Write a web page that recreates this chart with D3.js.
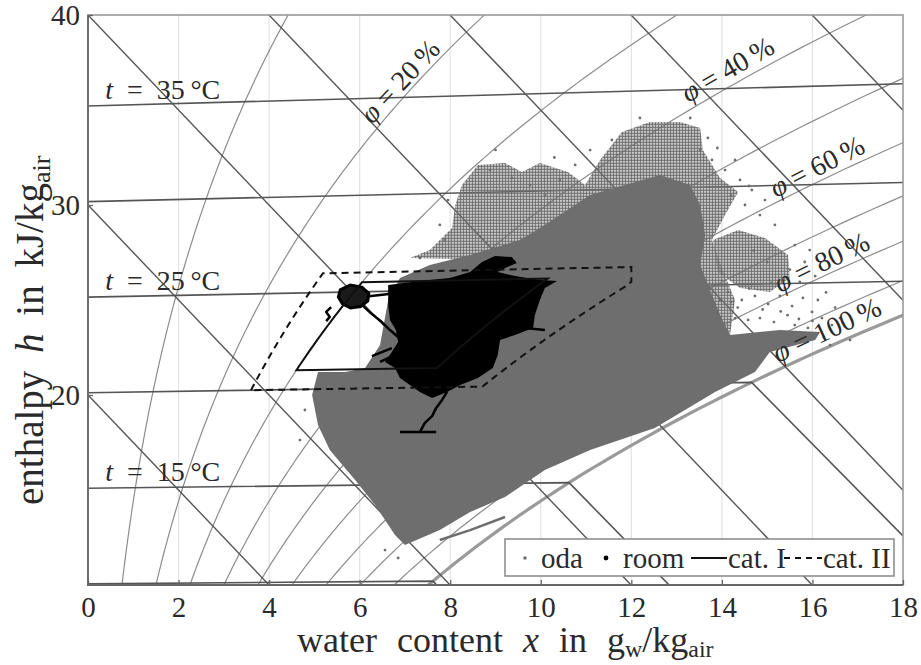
<!DOCTYPE html>
<html>
<head>
<meta charset="utf-8">
<script src="https://cdn.jsdelivr.net/npm/d3@7"></script>
<style>
  body { margin: 0; background: #fff; }
  text { font-family: "Liberation Serif", "Times New Roman", serif; fill: #2a2a2a; }
</style>
</head>
<body>
<svg width="921" height="665"></svg>
<script>
// ---- chart values (x in g/kg, y = axis reading h - r*x in kJ/kg) ----
const xTicks = [0, 2, 4, 6, 8, 10, 12, 14, 16, 18];
const yTicks = [20, 30, 40];
const isotherms = [10, 15, 20, 25, 30, 35, 40];
const isothermLabels = [15, 25, 35];
const enthalpyLevels = [10, 20, 30, 40, 50, 60, 70, 80];
const rhLevels = [0.1, 0.2, 0.3, 0.4, 0.5, 0.6, 0.7, 0.8, 0.9, 1.0];
const rhLabelText = ["20", "40", "60", "80", "100"];
const rhLabelX = [6.27, 13.25, 15.19, 15.28, 15.24];
const rhLabelY = [34.21, 35.37, 30.37, 25.37, 21.68];
const rhLabelAngle = [-47, -30, -27, -26, -25];

// comfort categories: temperature range, rel. humidity range, max water content
const catI = { t: [21, 25.5], phi: [0.30, 0.50], xMax: 99 };
const catII = { t: [20, 26], phi: [0.25, 0.60], xMax: 12 };

// outdoor air (oda) cloud
const odaCore = [
  [10.42, 29.47], [11.09, 30.53], [11.86, 31.05], [12.63, 31.58], [13.30, 31.05],
  [13.52, 30.0], [13.63, 28.42], [13.52, 26.84], [13.74, 25.53], [13.96, 24.21],
  [14.18, 23.16], [15.28, 23.42], [16.17, 23.32], [16.06, 22.89], [15.06, 22.26],
  [14.73, 21.21], [13.85, 20.16], [12.52, 18.26], [11.09, 17.11], [10.09, 16.05],
  [9.21, 14.63], [8.44, 13.84], [7.77, 12.89], [7.0, 12.11], [6.78, 12.63],
  [6.34, 14.21], [5.90, 15.53], [5.34, 17.11], [5.08, 18.42], [4.95, 20.0],
  [5.08, 21.21], [5.68, 21.21], [6.12, 21.42], [6.45, 22.63], [6.63, 25.0],
  [6.89, 26.16], [7.55, 26.84], [8.44, 27.37], [9.54, 28.16], [10.09, 28.95]
];
const odaMid = [
  [7.11, 27.21], [7.55, 27.63], [8.04, 28.79], [8.11, 30.0], [8.26, 31.05],
  [8.61, 32.11], [9.21, 32.21], [9.58, 31.74], [9.98, 32.21], [10.60, 31.74],
  [10.98, 31.05], [11.31, 32.37], [11.79, 33.84], [12.41, 34.37], [13.07, 34.37],
  [13.52, 34.05], [13.58, 32.89], [13.96, 31.42], [14.36, 30.68], [14.07, 29.47],
  [13.78, 28.16], [14.0, 26.68], [14.29, 25.0], [14.18, 23.16], [11.31, 25.0], [9.10, 27.11]
];
const odaLobe = [
  [13.80, 28.16], [14.36, 28.68], [14.95, 28.26], [15.46, 27.37],
  [15.50, 26.16], [15.06, 25.42], [14.40, 25.63], [13.91, 26.47]
];
const odaStreak = [[7.77, 12.37], [8.44, 12.89], [9.21, 13.58]];
const odaSparse = [
  [14.13, 25.42], [14.44, 25.0], [14.73, 25.21], [15.02, 24.79], [15.28, 25.21],
  [15.55, 24.68], [15.79, 25.11], [15.99, 24.37], [16.21, 24.05], [14.84, 24.05],
  [15.15, 23.84], [14.58, 23.95], [14.29, 24.05], [15.61, 23.68], [15.90, 23.53],
  [16.43, 23.68], [16.61, 24.05], [16.12, 25.0], [15.39, 25.63], [15.72, 25.95],
  [16.06, 26.26], [15.83, 27.0], [15.61, 27.89], [15.94, 27.63], [15.17, 28.95],
  [14.84, 29.47], [14.51, 30.0], [14.66, 30.79], [14.95, 30.26], [14.40, 31.32],
  [14.07, 31.84], [13.78, 32.37], [14.29, 32.37], [7.88, 28.16], [7.77, 28.95],
  [7.95, 30.26], [8.88, 31.84], [9.36, 31.42], [9.76, 31.05], [10.76, 32.11],
  [11.09, 32.89], [11.57, 33.42], [12.19, 34.58], [13.30, 34.58], [13.69, 33.53],
  [7.33, 27.21], [4.68, 17.63], [4.79, 19.21], [6.56, 11.84], [6.85, 11.42],
  [16.83, 22.89], [16.39, 22.63], [13.96, 25.0], [13.52, 32.89], [10.42, 31.32], [10.09, 30.53],
  [14.35, 24.6], [14.9, 24.5], [15.45, 24.2], [15.7, 24.0], [16.0, 23.9], [14.6, 25.6],
  [15.1, 25.9], [15.5, 26.6], [16.3, 25.4], [16.5, 24.6], [14.2, 24.9], [15.3, 24.4],
  [14.75, 22.7], [15.25, 22.95], [15.8, 22.9], [16.25, 23.05], [14.5, 22.35], [15.0, 27.0],
  [14.7, 27.6], [14.6, 31.0], [14.2, 30.5], [13.9, 33.0], [9.0, 32.9], [10.3, 32.5]
];

// room air
const roomBlob = [
  [6.63, 25.79], [7.33, 26.0], [7.99, 26.16], [8.44, 26.47], [8.70, 27.0],
  [8.99, 27.32], [9.36, 27.26], [9.47, 26.95], [9.21, 26.68], [9.05, 26.47],
  [9.43, 26.26], [9.98, 26.05], [10.36, 26.0], [10.09, 25.63], [9.98, 25.0],
  [9.87, 24.21], [9.83, 23.53], [9.43, 23.16], [9.10, 22.89], [9.05, 22.11],
  [8.94, 21.42], [8.61, 20.89], [8.22, 20.53], [7.93, 20.16], [7.60, 19.84],
  [7.33, 20.16], [7.11, 20.53], [6.89, 20.89], [6.78, 21.42], [6.56, 21.74],
  [6.71, 22.26], [6.85, 22.79], [6.80, 23.42], [6.67, 23.95], [6.63, 24.74]
];
const roomKnot = [
  [5.57, 25.53], [5.79, 25.79], [6.05, 25.68], [6.20, 25.35], [6.18, 24.95],
  [6.02, 24.66], [5.80, 24.58], [5.62, 24.8], [5.53, 25.16]
];
const roomTrails = [
  [[6.05, 24.74], [6.27, 24.26], [6.49, 23.84], [6.67, 23.42], [6.85, 23.05], [7.11, 22.79]],
  [[7.93, 20.16], [7.82, 19.74], [7.69, 19.32], [7.60, 18.89], [7.44, 18.53], [7.33, 18.05]],
  [[6.89, 18.05], [7.69, 18.05]],
  [[6.27, 22.05], [6.71, 22.47]],
  [[6.45, 21.74], [6.78, 22.11]],
  [[5.37, 24.63], [5.26, 24.37], [5.34, 24.11], [5.26, 23.89]],
  [[9.65, 23.53], [10.09, 23.42]],
  [[6.2, 25.2], [6.6, 25.3], [6.9, 25.6]]
];

// ---- psychrometrics (p = 101325 Pa) ----
const P = 101325;
const ps = t => 611.2 * Math.exp(17.62 * t / (243.12 + t));
const xOf = (phi, t) => 622 * phi * ps(t) / (P - phi * ps(t));
const yOf = (t, x) => 1.006 * t + 0.00186 * t * x;

const svg = d3.select("svg");
const x = d3.scaleLinear().domain([0, 18]).range([88, 903]);
const y = d3.scaleLinear().domain([10, 40]).range([585, 15]);
const line = d3.line().x(d => x(d[0])).y(d => y(d[1]));

const defs = svg.append("defs");
defs.append("clipPath").attr("id", "plot")
  .append("rect").attr("x", 88).attr("y", 15).attr("width", 815).attr("height", 570);
const pat = defs.append("pattern").attr("id", "dots")
  .attr("width", 3).attr("height", 3).attr("patternUnits", "userSpaceOnUse");
pat.append("circle").attr("cx", 1.5).attr("cy", 1.5).attr("r", 1.4).attr("fill", "#6e6e6e");

const g = svg.append("g").attr("clip-path", "url(#plot)");

// vertical grid
g.selectAll(".vgrid").data(xTicks.slice(1, -1)).enter().append("line")
  .attr("x1", d => x(d)).attr("x2", d => x(d)).attr("y1", 15).attr("y2", 585)
  .attr("stroke", "#e4e4e4").attr("stroke-width", 1.2);

// relative humidity curves
const tSamples = d3.range(-10, 50.01, 0.25);
g.selectAll(".rh").data(rhLevels).enter().append("path")
  .attr("d", phi => line(tSamples.map(t => [xOf(phi, t), yOf(t, xOf(phi, t))])))
  .attr("fill", "none")
  .attr("stroke", phi => phi === 1 ? "#9a9a9a" : "#8c8c8c")
  .attr("stroke-width", phi => phi === 1 ? 3.2 : 1.2);

// isotherms (with fog branch below saturation)
function isoPoints(t) {
  const xs = xOf(1, t);
  if (xs >= 18) return [[0, yOf(t, 0)], [18, yOf(t, 18)]];
  const ys = yOf(t, xs);
  return [[0, yOf(t, 0)], [xs, ys], [18, ys + (18 - xs) * (0.00419 * t - 2.501)]];
}
g.selectAll(".iso").data(isotherms).enter().append("path")
  .attr("d", t => line(isoPoints(t)))
  .attr("fill", "none").attr("stroke", "#555").attr("stroke-width", 1.6);

// enthalpy lines
g.selectAll(".hline").data(enthalpyLevels).enter().append("path")
  .attr("d", h => line([[0, h], [18, h - 2.501 * 18]]))
  .attr("fill", "none").attr("stroke", "#555").attr("stroke-width", 1.4);

// outdoor air
g.append("path").attr("d", line(odaMid) + "Z").attr("fill", "url(#dots)");
g.append("path").attr("d", line(odaLobe) + "Z").attr("fill", "url(#dots)");
g.append("path").attr("d", line(odaCore) + "Z").attr("fill", "#6e6e6e");
g.append("path").attr("d", line(odaStreak)).attr("fill", "none")
  .attr("stroke", "#6e6e6e").attr("stroke-width", 2.5);
g.selectAll(".oda").data(odaSparse).enter().append("circle")
  .attr("cx", d => x(d[0])).attr("cy", d => y(d[1])).attr("r", 1.4).attr("fill", "#6e6e6e");

// room air
g.append("path").attr("d", line(roomBlob) + "Z").attr("fill", "#000");
g.append("path").attr("d", line(roomKnot) + "Z").attr("fill", "#1a1a1a")
  .attr("stroke", "#000").attr("stroke-width", 3);
g.selectAll(".trail").data(roomTrails).enter().append("path")
  .attr("d", line).attr("fill", "none").attr("stroke", "#000")
  .attr("stroke-width", 2.5).attr("stroke-linejoin", "round");

// comfort categories
function catPoints(c) {
  const [t1, t2] = c.t, [p1, p2] = c.phi;
  const pts = [];
  const ts = d3.range(t1, t2 + 0.001, 0.25);
  ts.forEach(t => { const xx = xOf(p1, t); pts.push([xx, yOf(t, xx)]); });
  ts.slice().reverse().forEach(t => { const xx = Math.min(xOf(p2, t), c.xMax); pts.push([xx, yOf(t, xx)]); });
  return pts;
}
g.append("path").attr("d", line(catPoints(catI)) + "Z")
  .attr("fill", "none").attr("stroke", "#111").attr("stroke-width", 2);
g.append("path").attr("d", line(catPoints(catII)) + "Z")
  .attr("fill", "none").attr("stroke", "#111").attr("stroke-width", 2)
  .attr("stroke-dasharray", "7,5");

// frame
svg.append("rect").attr("x", 88).attr("y", 15).attr("width", 815).attr("height", 570)
  .attr("fill", "none").attr("stroke", "#999").attr("stroke-width", 1.6);
svg.append("path").attr("d", "M88,15V585H903").attr("fill", "none")
  .attr("stroke", "#666").attr("stroke-width", 1.8);

// axes
const ax = svg.append("g").attr("transform", "translate(0,585)")
  .call(d3.axisBottom(x).tickValues(xTicks).tickSize(-5).tickPadding(11));
const ay = svg.append("g").attr("transform", "translate(88,0)")
  .call(d3.axisLeft(y).tickValues(yTicks).tickSize(-5).tickPadding(8));
[ax, ay].forEach(a => {
  a.attr("font-size", 29).attr("font-family", "Liberation Serif, serif");
  a.select(".domain").remove();
  a.selectAll(".tick line").attr("stroke", "#666").attr("stroke-width", 1.3);
  a.selectAll(".tick text").style("font-size", "29px").attr("fill", "#2a2a2a");
});

// isotherm labels
isothermLabels.forEach(t => {
  const tx = svg.append("text").attr("x", x(0.38)).attr("y", y(yOf(t, 0.38)) - 7)
    .style("font-size", "28px");
  tx.append("tspan").style("font-style", "italic").text("t");
  tx.append("tspan").text("\u2002=\u2002" + t + "\u2009°C");
});

// relative humidity labels
rhLabelText.forEach((s, i) => {
  const tx = svg.append("text")
    .attr("transform", `translate(${x(rhLabelX[i])},${y(rhLabelY[i])}) rotate(${rhLabelAngle[i]})`)
    .style("font-size", "28px");
  tx.append("tspan").style("font-style", "italic").text("φ");
  tx.append("tspan").text("\u2005=\u2005" + s + "\u2009%");
});

// axis titles
const xl = svg.append("text").attr("x", 297).attr("y", 652).style("font-size", "36px")
  .style("word-spacing", "11px");
xl.append("tspan").text("water content ");
xl.append("tspan").style("font-style", "italic").text("x");
xl.append("tspan").text(" in g");
xl.append("tspan").attr("dy", 5).style("font-size", "24px").text("w");
xl.append("tspan").attr("dy", -5).text("/kg");
xl.append("tspan").attr("dy", 5).style("font-size", "24px").text("air");

const yl = svg.append("text").attr("transform", "translate(43,505) rotate(-90)")
  .style("font-size", "39px").style("word-spacing", "8px");
yl.append("tspan").text("enthalpy ");
yl.append("tspan").style("font-style", "italic").text("h");
yl.append("tspan").text(" in kJ/kg");
yl.append("tspan").attr("dy", 7).style("font-size", "26px").text("air");

// legend
const lg = svg.append("g");
lg.append("rect").attr("x", 505).attr("y", 539).attr("width", 389).attr("height", 37)
  .attr("fill", "#fff").attr("stroke", "#888").attr("stroke-width", 1.5);
lg.append("circle").attr("cx", 525).attr("cy", 558).attr("r", 1.8).attr("fill", "#6e6e6e");
lg.append("text").attr("x", 541).attr("y", 568).style("font-size", "29px").text("oda");
lg.append("circle").attr("cx", 606).attr("cy", 558).attr("r", 2.4).attr("fill", "#000");
lg.append("text").attr("x", 623).attr("y", 568).style("font-size", "29px").text("room");
lg.append("line").attr("x1", 691).attr("x2", 727).attr("y1", 558).attr("y2", 558)
  .attr("stroke", "#111").attr("stroke-width", 2);
lg.append("text").attr("x", 728).attr("y", 568).style("font-size", "29px").text("cat. I");
lg.append("line").attr("x1", 784).attr("x2", 822).attr("y1", 558).attr("y2", 558)
  .attr("stroke", "#111").attr("stroke-width", 2).attr("stroke-dasharray", "6,5");
lg.append("text").attr("x", 823).attr("y", 568).style("font-size", "29px").text("cat. II");
</script>
</body>
</html>
